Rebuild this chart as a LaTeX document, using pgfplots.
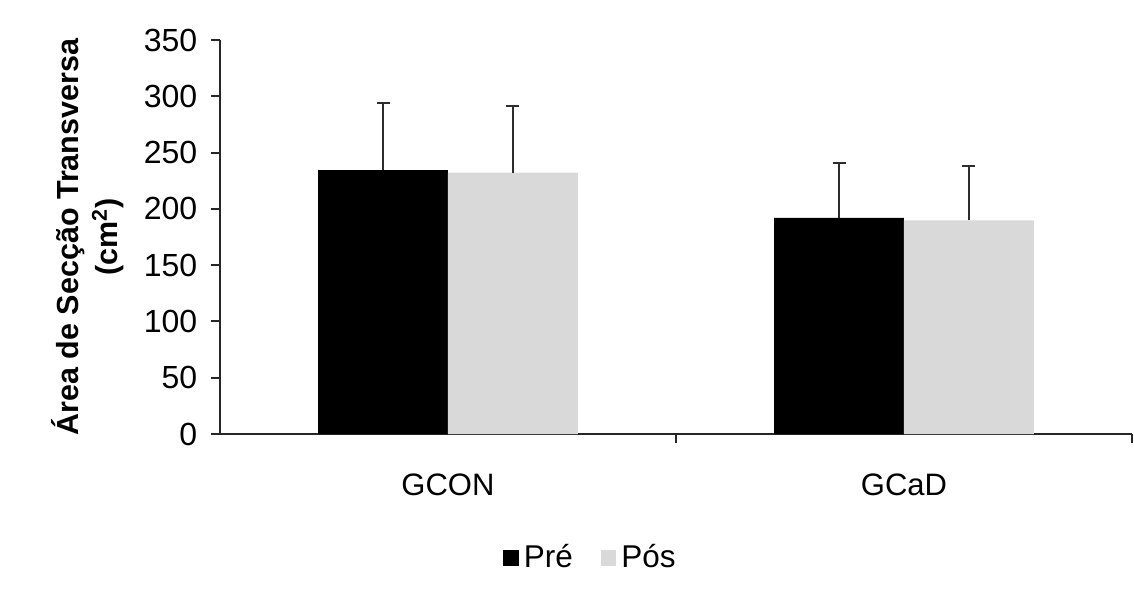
\documentclass[border=0pt]{standalone}
\usepackage{fontspec}
\setmainfont{Liberation Sans}
\usepackage{pgfplots}
\pgfplotsset{compat=1.18}
\definecolor{posgray}{RGB}{217,217,217}
\definecolor{errgray}{RGB}{45,45,45}

\begin{document}
\begin{tikzpicture}
  % fixed page frame (1 px of the reference = 0.4pt)
  \path[use as bounding box] (-88pt,-62.8pt) rectangle (365.6pt,173.6pt);
  \begin{axis}[
    at={(0pt,0pt)}, anchor=south west,
    scale only axis,
    width=364.8pt, height=157.6pt,
    axis lines*=left,
    axis line style={line width=0.8pt, black!85},
    ybar=0pt, bar width=0.285,
    xmin=-0.5, xmax=1.5,
    ymin=0, ymax=350,
    ytick={0,50,...,350},
    xtick={0,1},
    xticklabels={GCON,GCaD},
    x tick style={draw=none},
    extra x ticks={0.5,1.5},
    extra x tick labels={},
    extra x tick style={x tick style={draw=black!85, line width=0.8pt}},
    tick align=outside,
    major tick length=3.6pt,
    y tick style={line width=0.8pt, black!85},
    xticklabel style={font=\fontsize{12.4pt}{14pt}\selectfont, yshift=-9pt},
    yticklabel style={font=\fontsize{12.8pt}{14pt}\selectfont, xshift=-2pt},
    /pgf/number format/assume math mode=true,
    ylabel={\textbf{Área de Secção Transversa}\\\textbf{(cm\textsuperscript{2})}},
    ylabel style={align=center, font=\fontsize{12.2pt}{15.6pt}\selectfont, yshift=1pt},
    legend columns=2,
    legend style={at={(rel axis cs:0.408,-0.315)}, anchor=center, draw=none,
      font=\fontsize{12.6pt}{14pt}\selectfont,
      /tikz/every even column/.append style={column sep=9.2pt}},
    legend image code/.code={\fill[#1] (0pt,-3.2pt) rectangle (6.2pt,3.2pt);},
    error bars/y dir=plus,
    error bars/y explicit,
    error bars/error bar style={line width=0.7pt, errgray},
    error bars/error mark options={rotate=90, mark size=2.6pt, line width=0.7pt, errgray},
  ]
    \addplot[fill=black, draw=none] coordinates {
      (0,234.5) +- (0,59.3)
      (1,191.9) +- (0,48.6)
    };
    \addplot[fill=posgray, draw=none] coordinates {
      (0,232.1) +- (0,59.3)
      (1,189.8) +- (0,48.3)
    };
    \legend{Pré, Pós}
  \end{axis}
\end{tikzpicture}
\end{document}
